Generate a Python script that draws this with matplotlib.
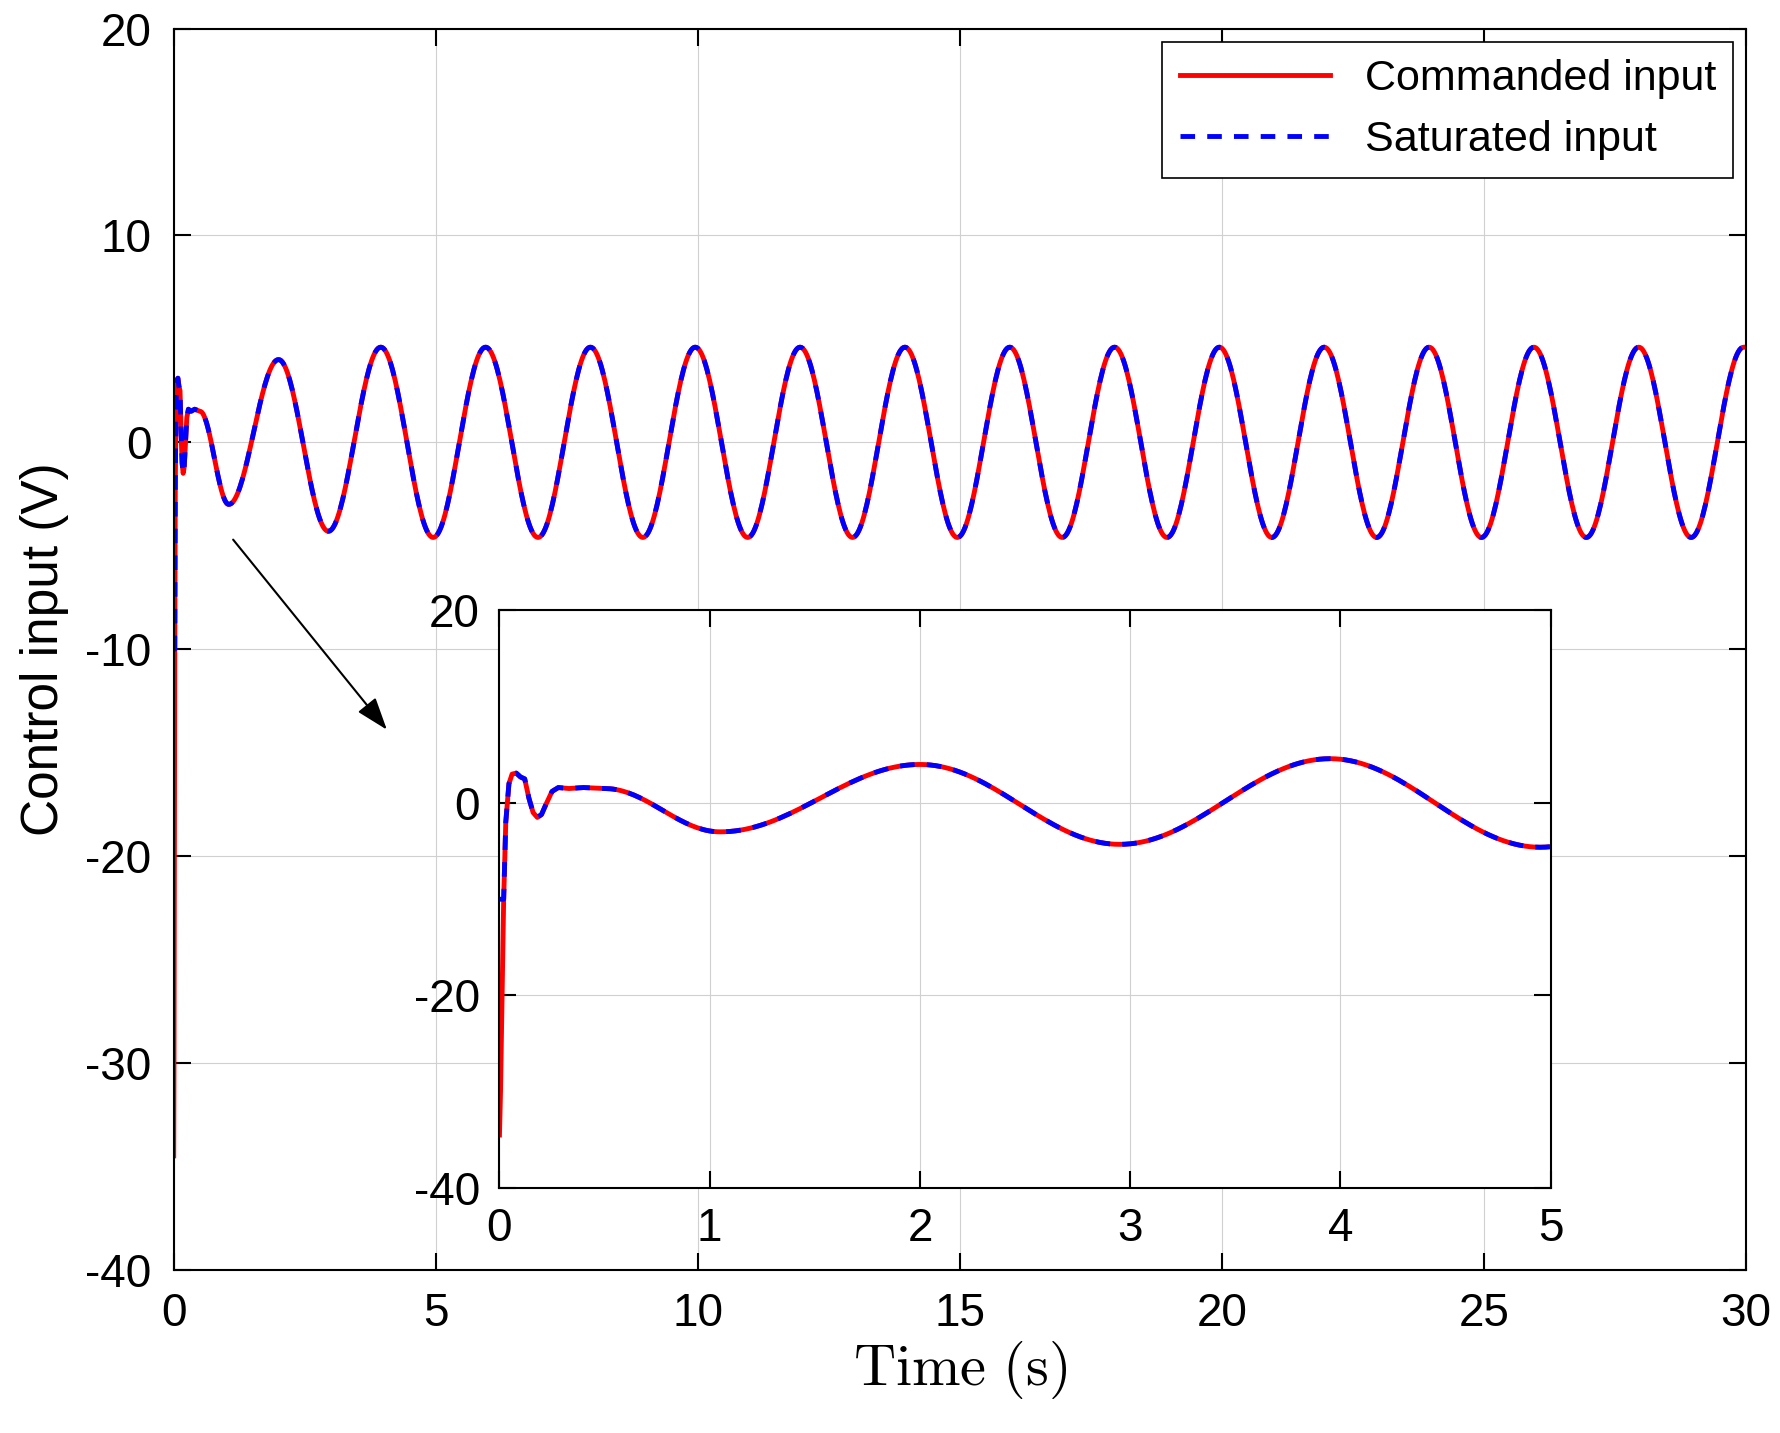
import numpy as np
import matplotlib
matplotlib.use('Agg')
import matplotlib.pyplot as plt

plt.rcParams['font.family'] = ['Liberation Sans', 'DejaVu Sans']
plt.rcParams['mathtext.fontset'] = 'cm'
plt.rcParams['axes.unicode_minus'] = False

# transient key points (time s, commanded V, saturated V)
trans_t = [0.0, 0.005, 0.02, 0.03, 0.045, 0.06, 0.08, 0.10, 0.12, 0.14, 0.16, 0.18, 0.20, 0.22, 0.25, 0.28, 0.33, 0.40, 0.50]
trans_cmd = [-34.5, -30.0, -10.0, -2.0, 2.0, 3.0, 3.1, 2.7, 2.5, 0.5, -1.0, -1.5, -1.2, -0.2, 1.2, 1.6, 1.5, 1.6, 1.5]
trans_sat = [-10.0, -10.0, -10.0, -2.0, 2.0, 3.0, 3.1, 2.7, 2.5, 0.5, -1.0, -1.5, -1.2, -0.2, 1.2, 1.6, 1.5, 1.6, 1.5]
# extrema after transient (time s, value V)
ext_t = [0.5, 1.05, 2.0, 2.95, 3.95, 4.95, 5.95, 6.95, 7.95, 8.95, 9.95, 10.95, 11.95, 12.95,
         13.95, 14.95, 15.95, 16.95, 17.95, 18.95, 19.95, 20.95, 21.95, 22.95, 23.95, 24.95,
         25.95, 26.95, 27.95, 28.95, 29.95, 30.0]
ext_v = [1.5, -3.0, 4.0, -4.3, 4.6, -4.6, 4.6, -4.6, 4.6, -4.6, 4.6, -4.6, 4.6, -4.6,
         4.6, -4.6, 4.6, -4.6, 4.6, -4.6, 4.6, -4.6, 4.6, -4.6, 4.6, -4.6,
         4.6, -4.6, 4.6, -4.6, 4.6, 4.6]

def build(tt, vv, et, ev):
    ts, vs = list(tt[:-1]), list(vv[:-1])
    for i in range(len(et) - 1):
        s = np.linspace(0, 1, 40, endpoint=False)
        w = (1 - np.cos(np.pi * s)) / 2
        ts += list(et[i] + (et[i+1] - et[i]) * s)
        vs += list(ev[i] + (ev[i+1] - ev[i]) * w)
    ts.append(et[-1]); vs.append(ev[-1])
    return np.array(ts), np.array(vs)

t_c, u_c = build(trans_t, trans_cmd, ext_t, ext_v)
t_s, u_s = build(trans_t, trans_sat, ext_t, ext_v)

fig = plt.figure(figsize=(17.8, 14.33), dpi=100)
ax = fig.add_axes([0.0976, 0.114, 0.8834, 0.866])
ax.plot(t_c, u_c, color='red', lw=3.5, label='Commanded input')
ax.plot(t_s, u_s, color='blue', lw=3.5, ls=(0, (3, 2.5)), label='Saturated input')
ax.set_xlim(0, 30); ax.set_ylim(-40, 20)
ax.set_xticks(range(0, 31, 5)); ax.set_yticks(range(-40, 21, 10))
ax.grid(True, color='#d0d0d0', lw=0.8)
ax.tick_params(labelsize=33, direction='in', length=12, width=1.5, top=True, right=True, pad=16)
for sp in ax.spines.values():
    sp.set_linewidth(1.5)
ax.set_xlabel(r'$\mathrm{Time\ (s)}$', fontsize=42, labelpad=2)
ax.set_ylabel('Control input (V)', fontsize=37, labelpad=12)
leg = ax.legend(loc='upper right', fontsize=31, fancybox=False, edgecolor='black',
                framealpha=1, borderaxespad=0.3, handlelength=3.5)
leg.get_frame().set_linewidth(1.2)
ax.annotate('', xy=(4.1, -14), xytext=(1.1, -4.6),
            arrowprops=dict(arrowstyle='-|>,head_length=2.0,head_width=0.7', color='black', lw=1.5))

ins = fig.add_axes([0.2806, 0.171, 0.5906, 0.403])
ins.plot(t_c, u_c, color='red', lw=3.5)
ins.plot(t_s, u_s, color='blue', lw=3.5, ls=(0, (3, 2.5)))
ins.set_xlim(0, 5); ins.set_ylim(-40, 20)
ins.set_xticks(range(0, 6)); ins.set_yticks([-40, -20, 0, 20])
ins.grid(True, color='#d0d0d0', lw=0.8)
ins.tick_params(labelsize=33, direction='in', length=12, width=1.5, top=True, right=True, pad=14)
for sp in ins.spines.values():
    sp.set_linewidth(1.5)

fig.savefig('out.png', dpi=100)
